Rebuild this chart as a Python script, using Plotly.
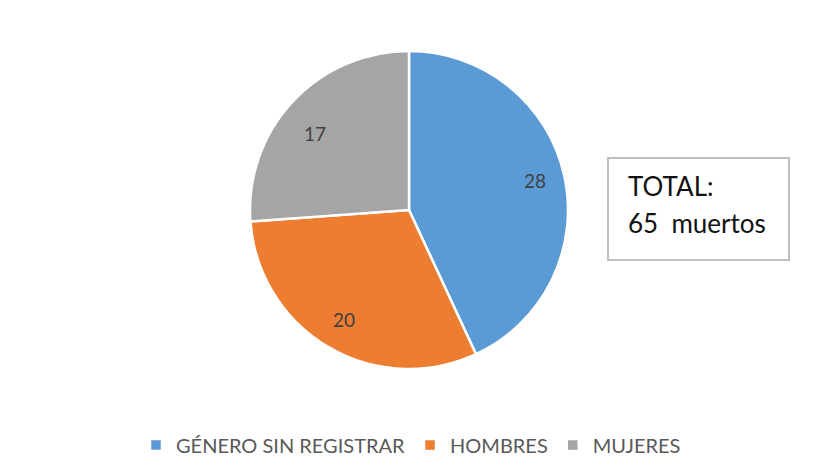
import math
import plotly.graph_objects as go

labels = ["GÉNERO SIN REGISTRAR", "HOMBRES", "MUJERES"]
values = [28, 20, 17]
colors = ["#5B9BD5", "#ED7D31", "#A5A5A5"]
total_lines = ["TOTAL:", "65  muertos"]

W, H = 817, 473
OFF = 8  # page body margin
cx, cy, r = 409 - OFF, 210 - OFF, 159
label_r = 0.81


def px(x):
    return x / W


def py(y):
    return 1 - y / H


fig = go.Figure(go.Pie(
    labels=labels, values=values, sort=False, direction="clockwise", rotation=0,
    marker=dict(colors=colors, line=dict(color="white", width=2.5)),
    textinfo="none",
    domain=dict(x=[px(cx - r), px(cx + r)], y=[py(cy + r), py(cy - r)]),
    hoverinfo="label+value+percent",
))

# value labels placed at slice mid-angles (Excel-style positions)
tot = sum(values)
cum = 0
for v in values:
    mid = (cum + v / 2) / tot * 2 * math.pi
    cum += v
    lx = cx + label_r * r * math.sin(mid)
    ly = cy - label_r * r * math.cos(mid) - 2
    fig.add_annotation(x=px(lx), y=py(ly), xref="paper", yref="paper",
                       text=str(v), showarrow=False,
                       font=dict(family="Lato", size=19, color="#404040"))

# TOTAL box
bx0, by0, bx1, by1 = 608 - OFF, 158 - OFF, 789 - OFF, 260 - OFF
fig.add_shape(type="rect", xref="paper", yref="paper",
              x0=px(bx0), x1=px(bx1), y0=py(by1), y1=py(by0),
              line=dict(color="#BFBFBF", width=2), fillcolor="white", layer="below")
for i, t in enumerate(total_lines):
    fig.add_annotation(x=px(bx0 + 18), y=py(186 - OFF + 37 * i), xref="paper", yref="paper",
                       xanchor="left", yanchor="middle", text=t, showarrow=False,
                       font=dict(family="Lato", size=26, color="#111111"))

fig.update_layout(
    width=W, height=H, margin=dict(l=0, r=0, t=0, b=0),
    paper_bgcolor="white", plot_bgcolor="white",
    showlegend=True,
    legend=dict(orientation="h", x=px(411 - OFF), xanchor="center", y=py(445 - OFF), yanchor="middle",
                font=dict(family="Lato", size=20, color="#595959"), itemwidth=30,
                traceorder="normal"),
)

fig.write_html("out.html")
